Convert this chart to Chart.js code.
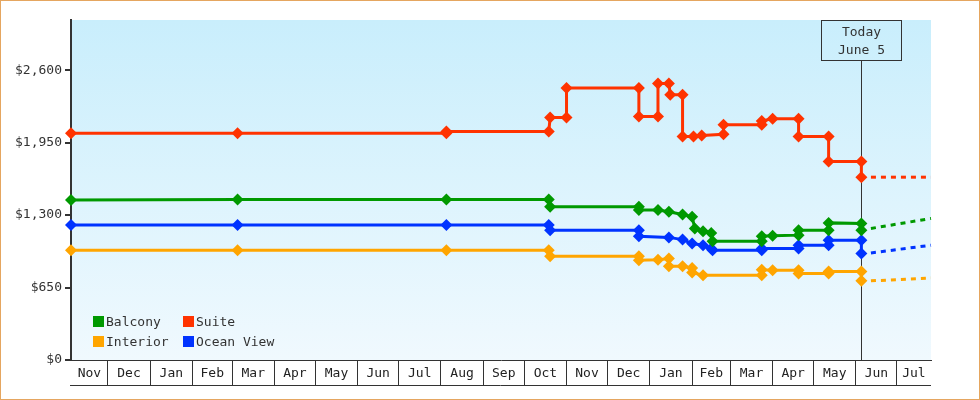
<!DOCTYPE html>
<html>
<head>
<meta charset="utf-8">
<script src="https://cdn.jsdelivr.net/npm/chart.js@4.4.1/dist/chart.umd.min.js"></script>
<style>
  body { margin: 0; background: #fff; }
  #wrap { position: relative; width: 980px; height: 400px; }
  #frame {
    position: absolute; left: 0; top: 0; width: 980px; height: 400px;
    box-sizing: border-box; border: 1px solid #e5a660; pointer-events: none;
  }
  #legend {
    position: absolute; left: 93px; top: 311px;
    display: grid; grid-template-columns: 90px 110px;
    font: 13px "DejaVu Sans Mono", monospace; color: #333;
  }
  .item { display: flex; align-items: center; height: 20px; white-space: nowrap; }
  .swatch { width: 11px; height: 11px; margin-right: 2px; }
</style>
</head>
<body>
<div id="wrap">
  <canvas id="priceChart" width="980" height="400"></canvas>
  <div id="legend"></div>
  <div id="frame"></div>
</div>
<script>
// ===== DATA =====
const xStart = "2023-11-04";
const xEnd = "2025-07-26";
const todayDate = "2025-06-05";
const todayLabel = ["Today", "June 5"];

const monthLabels = ["Nov", "Dec", "Jan", "Feb", "Mar", "Apr", "May", "Jun", "Jul", "Aug", "Sep",
    "Oct", "Nov", "Dec", "Jan", "Feb", "Mar", "Apr", "May", "Jun", "Jul"];
const monthStarts = ["2023-11-01", "2023-12-01", "2024-01-01", "2024-02-01", "2024-03-01",
    "2024-04-01", "2024-05-01", "2024-06-01", "2024-07-01", "2024-08-01", "2024-09-01",
    "2024-10-01", "2024-11-01", "2024-12-01", "2025-01-01", "2025-02-01", "2025-03-01",
    "2025-04-01", "2025-05-01", "2025-06-01", "2025-07-01", "2025-08-01"];

const yTicks = [0, 650, 1300, 1950, 2600];
const yMax = 3050;

const suiteDates = ["2023-11-04", "2024-03-05", "2024-08-05", "2024-08-05", "2024-10-19", "2024-10-20",
    "2024-11-01", "2024-11-01", "2024-12-24", "2024-12-24", "2025-01-07", "2025-01-07", "2025-01-15",
    "2025-01-16", "2025-01-25", "2025-01-25", "2025-02-02", "2025-02-08", "2025-02-24", "2025-02-24",
    "2025-03-24", "2025-03-24", "2025-04-01", "2025-04-20", "2025-04-20", "2025-05-12", "2025-05-12",
    "2025-06-05", "2025-06-05"];
const suitePrices = [2035, 2035, 2035, 2050, 2050, 2175, 2175, 2440, 2440, 2185, 2185, 2480, 2480,
    2380, 2380, 2005, 2005, 2015, 2025, 2110, 2110, 2145, 2165, 2165, 2005, 2005, 1780, 1780, 1640];

const balconyDates = ["2023-11-04", "2024-03-05", "2024-08-05", "2024-10-19", "2024-10-20", "2024-12-24",
    "2024-12-24", "2025-01-07", "2025-01-15", "2025-01-25", "2025-02-01", "2025-02-03", "2025-02-09",
    "2025-02-15", "2025-02-16", "2025-03-24", "2025-03-24", "2025-04-01", "2025-04-20", "2025-04-20",
    "2025-05-12", "2025-05-12", "2025-06-05", "2025-06-05"];
const balconyPrices = [1435, 1440, 1440, 1440, 1375, 1375, 1345, 1345, 1330, 1305, 1285, 1180, 1155,
    1140, 1065, 1065, 1110, 1115, 1120, 1165, 1165, 1230, 1225, 1165];

const oceanDates = ["2023-11-04", "2024-03-05", "2024-08-05", "2024-10-19", "2024-10-20", "2024-12-24",
    "2024-12-24", "2025-01-15", "2025-01-25", "2025-02-01", "2025-02-09", "2025-02-15", "2025-02-16",
    "2025-03-24", "2025-03-24", "2025-04-20", "2025-04-20", "2025-05-12", "2025-05-12", "2025-06-05",
    "2025-06-05"];
const oceanPrices = [1210, 1210, 1210, 1210, 1165, 1165, 1110, 1100, 1080, 1045, 1030, 1000, 985,
    985, 1000, 1000, 1030, 1030, 1075, 1075, 955];

const interiorDates = ["2023-11-04", "2024-03-05", "2024-08-05", "2024-10-19", "2024-10-20", "2024-12-24",
    "2024-12-24", "2025-01-07", "2025-01-15", "2025-01-15", "2025-01-25", "2025-02-01", "2025-02-01",
    "2025-02-09", "2025-03-24", "2025-03-24", "2025-04-01", "2025-04-20", "2025-04-20", "2025-05-12",
    "2025-05-12", "2025-06-05", "2025-06-05"];
const interiorPrices = [985, 985, 985, 985, 930, 930, 895, 900, 910, 840, 840, 825, 785, 760, 760,
    810, 805, 805, 775, 775, 795, 795, 710];

// projection after today (dashed)
const projDates = ["2025-06-12", "2025-07-26"];
const suiteProj = [1640, 1640];
const balconyProj = [1180, 1270];
const oceanProj = [960, 1030];
const interiorProj = [710, 735];

// ===== STYLE =====
const COLORS = {
    "Balcony": "#009900",
    "Suite": "#ff3300",
    "Interior": "#ffa500",
    "Ocean View": "#0033ff"
};
const legendOrder = ["Balcony", "Suite", "Interior", "Ocean View"];
const FONT = "DejaVu Sans Mono";
const INK = "#333";

Chart.defaults.font.family = FONT;
Chart.defaults.font.size = 13;
Chart.defaults.color = INK;

//
// ================= HELPERS =================
//
const DAY0 = Date.UTC(2023, 10, 1);
function dayOf(s) {
    return (Date.parse(s) - DAY0) / 86400000;
}

function points(dates, prices) {
    return dates.map((d, i) => ({ x: dayOf(d), y: prices[i] }));
}

function priceLine(name, dates, prices) {
    return {
        label: name,
        data: points(dates, prices),
        borderColor: COLORS[name],
        backgroundColor: COLORS[name],
        borderWidth: 3,
        tension: 0,
        pointStyle: "rectRot",
        pointRadius: 6,
        pointBorderWidth: 0,
        clip: false
    };
}

function projLine(name, prices) {
    return {
        label: name + " (projected)",
        data: points(projDates, prices),
        borderColor: COLORS[name],
        borderWidth: 3,
        borderDash: [5, 5],
        pointRadius: 0,
        tension: 0,
        clip: false
    };
}

// month boundaries + month centres as x ticks
function monthTicks() {
    const lo = dayOf(xStart);
    const hi = dayOf(xEnd);
    const ticks = [];
    for (let i = 0; i < monthLabels.length; i++) {
        const a = Math.max(dayOf(monthStarts[i]), lo);
        const b = Math.min(dayOf(monthStarts[i + 1]), hi);
        if (i > 0) ticks.push({ value: a });
        ticks.push({ value: (a + b) / 2, name: monthLabels[i] });
    }
    return ticks;
}

//
// ================= PLUGINS =================
//
const plotBackground = {
    id: "plotBackground",
    beforeDraw(chart) {
        const { ctx, chartArea: a } = chart;
        const g = ctx.createLinearGradient(0, a.top, 0, a.bottom);
        g.addColorStop(0, "#c9eefc");
        g.addColorStop(1, "#f0f9fe");
        ctx.save();
        ctx.fillStyle = g;
        ctx.fillRect(a.left, a.top, a.right - a.left, a.bottom - a.top);
        ctx.restore();
    }
};

const monthBand = {
    id: "monthBand",
    afterDraw(chart) {
        const { ctx, chartArea: a } = chart;
        const y = Math.round(chart.scales.x.top + 25) + 0.5;
        ctx.save();
        ctx.strokeStyle = INK;
        ctx.lineWidth = 1;
        ctx.beginPath();
        ctx.moveTo(a.left - 1, y);
        ctx.lineTo(a.right, y);
        ctx.stroke();
        ctx.restore();
    }
};

const todayMarker = {
    id: "todayMarker",
    beforeDatasetsDraw(chart) {
        const { ctx, chartArea: a } = chart;
        const x = Math.round(chart.scales.x.getPixelForValue(dayOf(todayDate))) + 0.5;
        const boxW = 80, boxH = 40;
        const top = a.top + 0.5;
        ctx.save();
        ctx.strokeStyle = INK;
        ctx.lineWidth = 1;
        ctx.beginPath();
        ctx.moveTo(x, top + boxH);
        ctx.lineTo(x, a.bottom);
        ctx.stroke();
        ctx.strokeRect(x - boxW / 2, top, boxW, boxH);
        ctx.fillStyle = INK;
        ctx.font = "13px " + FONT;
        ctx.textAlign = "center";
        ctx.textBaseline = "middle";
        ctx.fillText(todayLabel[0], x, top + 12);
        ctx.fillText(todayLabel[1], x, top + 30);
        ctx.restore();
    }
};

//
// ================= CHART =================
//
const ctx = document.getElementById("priceChart").getContext("2d");

new Chart(ctx, {
    type: "line",
    data: {
        datasets: [
            priceLine("Suite", suiteDates, suitePrices),
            priceLine("Balcony", balconyDates, balconyPrices),
            priceLine("Ocean View", oceanDates, oceanPrices),
            priceLine("Interior", interiorDates, interiorPrices),
            projLine("Suite", suiteProj),
            projLine("Balcony", balconyProj),
            projLine("Ocean View", oceanProj),
            projLine("Interior", interiorProj)
        ]
    },
    options: {
        responsive: false,
        animation: false,
        layout: { padding: { top: 20, right: 49, left: 0, bottom: 0 } },
        plugins: {
            legend: { display: false },
            tooltip: { enabled: false }
        },
        scales: {
            x: {
                type: "linear",
                min: dayOf(xStart),
                max: dayOf(xEnd),
                afterBuildTicks: scale => { scale.ticks = monthTicks(); },
                afterFit: scale => { scale.height = 40; },
                grid: {
                    drawOnChartArea: false,
                    tickLength: 25,
                    lineWidth: 1,
                    color: c => (c.tick && c.tick.name) ? "rgba(0,0,0,0)" : INK
                },
                border: { color: INK, width: 1 },
                ticks: {
                    autoSkip: false,
                    maxRotation: 0,
                    padding: -19,
                    color: "#222",
                    callback: (v, i, t) => t[i].name || ""
                }
            },
            y: {
                min: 0,
                max: yMax,
                afterBuildTicks: scale => { scale.ticks = yTicks.map(v => ({ value: v })); },
                afterFit: scale => { scale.width = 71; },
                grid: { drawOnChartArea: false, tickLength: 6, lineWidth: 2, color: INK },
                border: { color: INK, width: 2 },
                ticks: {
                    padding: 3,
                    callback: v => "$" + v.toLocaleString("en-US")
                }
            }
        }
    },
    plugins: [plotBackground, monthBand, todayMarker]
});

//
// ================= LEGEND =================
//
const legend = document.getElementById("legend");
legendOrder.forEach(name => {
    const item = document.createElement("div");
    item.className = "item";
    const sw = document.createElement("span");
    sw.className = "swatch";
    sw.style.background = COLORS[name];
    const txt = document.createElement("span");
    txt.innerText = name;
    item.appendChild(sw);
    item.appendChild(txt);
    legend.appendChild(item);
});
</script>
</body>
</html>
